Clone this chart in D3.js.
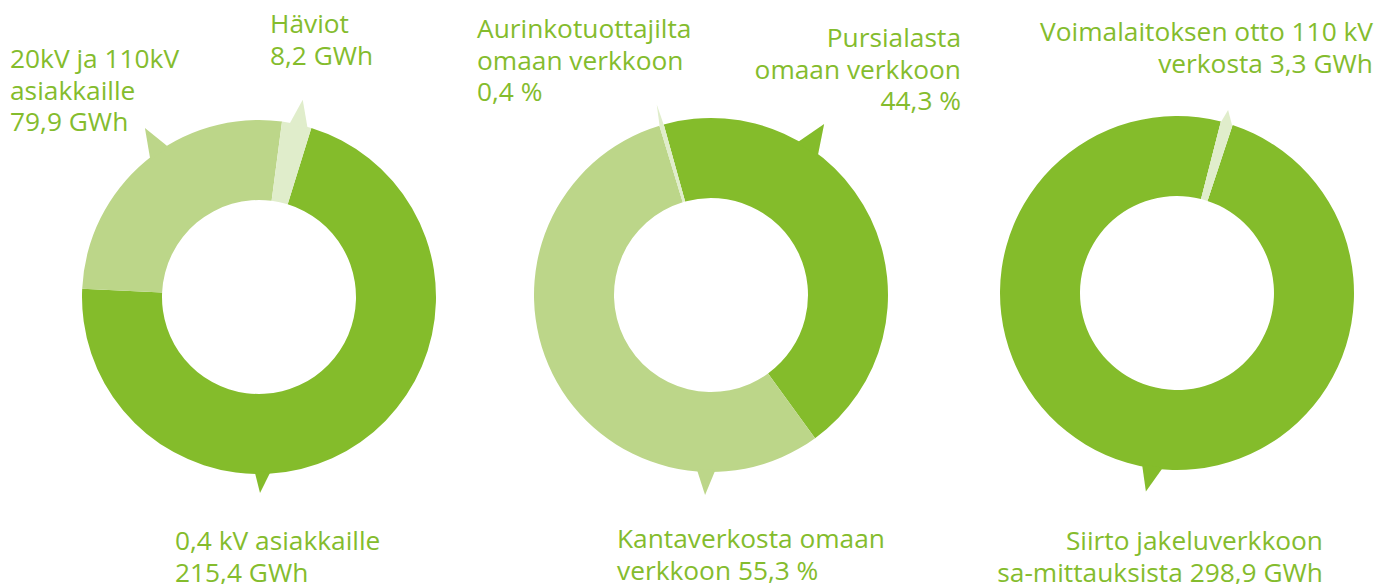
<!DOCTYPE html>
<html>
<head>
<meta charset="utf-8">
<script src="https://cdn.jsdelivr.net/npm/d3@7"></script>
<style>
  body { margin: 0; background: #fff; }
  text { font-family: "Open Sans", sans-serif; font-size: 26.3px; fill: #84bc2d; }
</style>
</head>
<body>
<svg id="chart" width="1381" height="584"></svg>
<script>
// data
const jakeluLabels = [["0,4 kV asiakkaille", "215,4 GWh"], ["20kV ja 110kV", "asiakkaille", "79,9 GWh"], ["Häviot", "8,2 GWh"]];
const jakeluValues = [215.4, 79.9, 8.2];

const hankintaLabels = [["Pursialasta", "omaan verkkoon", "44,3 %"], ["Kantaverkosta omaan", "verkkoon 55,3 %"], ["Aurinkotuottajilta", "omaan verkkoon", "0,4 %"]];
const hankintaValues = [44.3, 55.3, 0.4];

const siirtoLabels = [["Siirto jakeluverkkoon", "sa-mittauksista 298,9 GWh"], ["Voimalaitoksen otto 110 kV", "verkosta 3,3 GWh"]];
const siirtoValues = [298.9, 3.3];

const dark = "#84bc2b", light = "#bcd689", pale = "#e0edcb";

// layout
const rOuter = 177, rInner = 97;
const deg = Math.PI / 180;

const charts = [
  {
    cx: 259, cy: 297, start: 17.2, values: jakeluValues, labels: jakeluLabels,
    colors: [dark, light, pale],
    text: [{x: 175, y: 550, anchor: "start"}, {x: 10, y: 68, anchor: "start"}, {x: 270, y: 33, anchor: "start"}],
    pointers: [
      {slice: 0, a0: 176.4, a1: 181.3, tip: 179.7, r: 196},
      {slice: 1, a0: 321.8, a1: 328.8, tip: 326, r: 204},
      {slice: 2, a0: 10, a1: 16, tip: 12.5, r: 202}
    ]
  },
  {
    cx: 711, cy: 295, start: -15.5, values: hankintaValues, labels: hankintaLabels,
    colors: [dark, light, pale],
    text: [{x: 961, y: 47, anchor: "end"}, {x: 617, y: 548, anchor: "start"}, {x: 477, y: 38, anchor: "start"}],
    pointers: [
      {slice: 0, a0: 29.6, a1: 37.4, tip: 33.5, r: 205},
      {slice: 1, a0: 178.7, a1: 184.5, tip: 181.7, r: 200},
      {slice: 2, tip: 344.1, r: 198}
    ]
  },
  {
    cx: 1177, cy: 293, start: 18.3, values: siirtoValues, labels: siirtoLabels,
    colors: [dark, pale],
    text: [{x: 1323, y: 550, anchor: "end"}, {x: 1373, y: 41, anchor: "end"}],
    pointers: [
      {slice: 0, a0: 184.8, a1: 191.4, tip: 188.9, r: 201},
      {slice: 1, tip: 15.6, r: 190}
    ]
  }
];

const svg = d3.select("#chart");
const arc = d3.arc().innerRadius(rInner).outerRadius(rOuter);

function polar(a, r) {
  return [r * Math.sin(a), -r * Math.cos(a)];
}

charts.forEach(c => {
  const pie = d3.pie().sort(null)
    .startAngle(c.start * deg)
    .endAngle(c.start * deg + 2 * Math.PI);
  const arcs = pie(c.values);

  const g = svg.append("g").attr("transform", `translate(${c.cx},${c.cy})`);

  g.selectAll("path.slice")
    .data(arcs)
    .join("path")
    .attr("class", "slice")
    .attr("d", arc)
    .attr("fill", (d, i) => c.colors[i]);

  // speech-bubble tails
  g.selectAll("path.tail")
    .data(c.pointers)
    .join("path")
    .attr("class", "tail")
    .attr("d", p => {
      const s = arcs[p.slice];
      const a0 = p.a0 != null ? p.a0 * deg : s.startAngle;
      const a1 = p.a1 != null ? p.a1 * deg : s.endAngle;
      const rb = p.a0 != null ? rOuter - 2 : rInner + 1;
      const pts = [polar(a0, rb), polar(a0, rOuter - 1), polar(p.tip * deg, p.r), polar(a1, rOuter - 1), polar(a1, rb)];
      return d3.line()(pts) + "Z";
    })
    .attr("fill", p => c.colors[p.slice]);

  c.labels.forEach((lines, i) => {
    const t = svg.append("text")
      .attr("x", c.text[i].x)
      .attr("y", c.text[i].y)
      .attr("text-anchor", c.text[i].anchor);
    lines.forEach((line, j) => {
      t.append("tspan")
        .attr("x", c.text[i].x)
        .attr("dy", j === 0 ? 0 : 31.5)
        .text(line);
    });
  });
});
</script>
</body>
</html>
